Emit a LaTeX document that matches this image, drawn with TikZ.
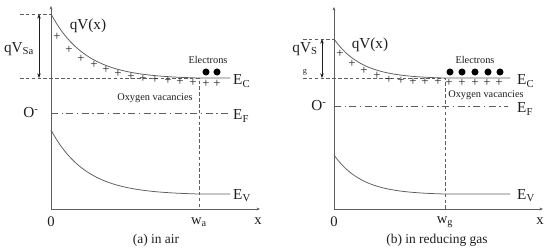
\documentclass[tikz,border=0pt]{standalone}
\usepackage{fontspec}
\setmainfont{Liberation Serif}
\newfontfamily\bandfont{Liberation Serif}
\usetikzlibrary{arrows.meta,positioning}
\definecolor{bandgray}{HTML}{5E5E5E}
\definecolor{inkdark}{HTML}{1E1E1E}

\begin{document}
\begin{tikzpicture}[x=0.03cm, y=-0.03cm,
  band/.style={draw=bandgray, line width=0.65pt},
  axis/.style={draw=bandgray, line width=0.65pt, -{Stealth[length=3pt,width=2.4pt]}},
  guide/.style={draw=bandgray, line width=0.5pt, dash pattern=on 3pt off 2pt},
  fermi/.style={draw=bandgray, line width=0.5pt, dash pattern=on 6pt off 3pt on 1.2pt off 3pt},
  span/.style={draw=inkdark, line width=0.5pt, {Stealth[length=4pt,width=3pt]}-{Stealth[length=4pt,width=3pt]}},
  lbl/.style={text=inkdark, inner sep=0pt, font=\bandfont\fontsize{13}{14}\selectfont},
  tick/.style={text=inkdark, inner sep=0pt, font=\bandfont\fontsize{12.5}{14}\selectfont},
  small/.style={text=inkdark, inner sep=0pt, font=\bandfont\fontsize{8.8}{10}\selectfont},
  plus/.style={text=inkdark, inner sep=0pt, font=\bandfont\fontsize{11}{12}\selectfont},
  electron/.style={circle, fill=black, inner sep=0pt, minimum size=6pt}
]
  \useasboundingbox (0,0) rectangle (550,252);

  % (a) in air
  \coordinate (oa) at (51,209);
  \coordinate (ya) at (51,6);
  \coordinate (xa) at (260,209);
  \coordinate (topa) at (20,14);
  \coordinate (eca) at (20,78);
  \coordinate (wta) at (199,78);
  \coordinate (wba) at (199,209);
  \coordinate (efa) at (51,113);
  \coordinate (efea) at (230,113);
  \draw[axis] (oa) -- (ya);
  \draw[axis] (oa) -- (xa);
  \draw[guide] (topa) -- (ya |- topa);
  \draw[guide] (eca) -- (wta) -- (wba);
  \draw[fermi] (efa) -- (efea);
  \draw[band] plot[domain=0:148, samples=60]
    ({51+\x},{78-64*(exp(-\x/35)-exp(-148/35))/(1-exp(-148/35))}) -- (230,78);
  \draw[band] plot[domain=0:148, samples=60]
    ({51+\x},{194-64*(exp(-\x/35)-exp(-148/35))/(1-exp(-148/35))}) -- (230,194);
  \coordinate (sta) at (39,14);
  \coordinate (sba) at (39,78);
  \draw[span] (sta) -- (sba);

  \foreach \px/\py [count=\i] in {57/37,69/50,81/59,94/65,106/70,118/74,131/77,
      143/79,155/80,168/81,180/82,193/83,206/84,217/84}
    \node[plus] (pa\i) at (\px,\py) {+};
  \foreach \px [count=\i] in {206,217}
    \node[electron] (ea\i) at (\px,72) {};

  \node[lbl] (qvsa) at (19,49) {qV\textsubscript{Sa}};
  \node[lbl] (qvxa) at (88,26) {qV(x)};
  \node[small] (elea) at (208,60) {Electrons};
  \node[small] (oxva) at (155,98) {Oxygen vacancies};
  \node[lbl, anchor=west] (eclbla) at (233,81) {E\textsubscript{C}};
  \node[lbl, anchor=west] (eflbla) at (233,116) {E\textsubscript{F}};
  \node[lbl, anchor=west] (evlbla) at (233,196) {E\textsubscript{V}};
  \node[lbl] (oma) at (31,113) {O\textsuperscript{-}};
  \node[tick] (zeroa) at (51,222) {0};
  \node[tick] (wlbla) at (199,222) {w\textsubscript{a}};
  \node[tick] (xlbla) at (258,221) {x};
  \node[lbl, font=\bandfont\fontsize{11.5}{13}\selectfont] (capa) at (156,240) {(a) in air};

  % (b) in reducing gas
  \coordinate (ob) at (334,209);
  \coordinate (yb) at (334,7);
  \coordinate (xb) at (543,209);
  \coordinate (topb) at (303,39);
  \coordinate (ecb) at (303,78);
  \coordinate (wtb) at (445,78);
  \coordinate (wbb) at (445,209);
  \coordinate (efb) at (334,106);
  \coordinate (efeb) at (508,106);
  \draw[axis] (ob) -- (yb);
  \draw[axis] (ob) -- (xb);
  \draw[guide] (topb) -- (yb |- topb);
  \draw[guide] (ecb) -- (wtb) -- (wbb);
  \draw[fermi] (efb) -- (efeb);
  \draw[band] plot[domain=0:111, samples=60]
    ({334+\x},{78-39*(exp(-\x/28)-exp(-111/28))/(1-exp(-111/28))}) -- (510,78);
  \draw[band] plot[domain=0:111, samples=60]
    ({334+\x},{194-39*(exp(-\x/28)-exp(-111/28))/(1-exp(-111/28))}) -- (510,194);
  \coordinate (stb) at (322,39);
  \coordinate (sbb) at (322,78);
  \draw[span] (stb) -- (sbb);

  \foreach \px/\py [count=\i] in {340/54,352/64,364/71,377/76,389/80,401/81,413/82,
      425/82,438/82,449/83,462/83,475/83,487/83,499/83}
    \node[plus] (pb\i) at (\px,\py) {+};
  \foreach \px [count=\i] in {450,462,475,488,500}
    \node[electron] (eb\i) at (\px,72) {};

  \node[lbl] (qvsb) at (305,49) {qV\textsubscript{S}};
  \node[small, font=\bandfont\fontsize{7}{8}\selectfont] (gsub) at (305,72) {g};
  \node[lbl] (qvxb) at (370,45) {qV(x)};
  \node[small] (eleb) at (475,60) {Electrons};
  \node[small] (oxvb) at (486,95) {Oxygen vacancies};
  \node[lbl, anchor=west] (eclblb) at (517,81) {E\textsubscript{C}};
  \node[lbl, anchor=west] (eflblb) at (517,109) {E\textsubscript{F}};
  \node[lbl, anchor=west] (evlblb) at (517,196) {E\textsubscript{V}};
  \node[lbl] (omb) at (319,106) {O\textsuperscript{-}};
  \node[tick] (zerob) at (334,222) {0};
  \node[tick] (wlblb) at (445,222) {w\textsubscript{g}};
  \node[tick] (xlblb) at (540,221) {x};
  \node[lbl, font=\bandfont\fontsize{11.5}{13}\selectfont] (capb) at (437,240) {(b) in reducing gas};
\end{tikzpicture}
\end{document}
